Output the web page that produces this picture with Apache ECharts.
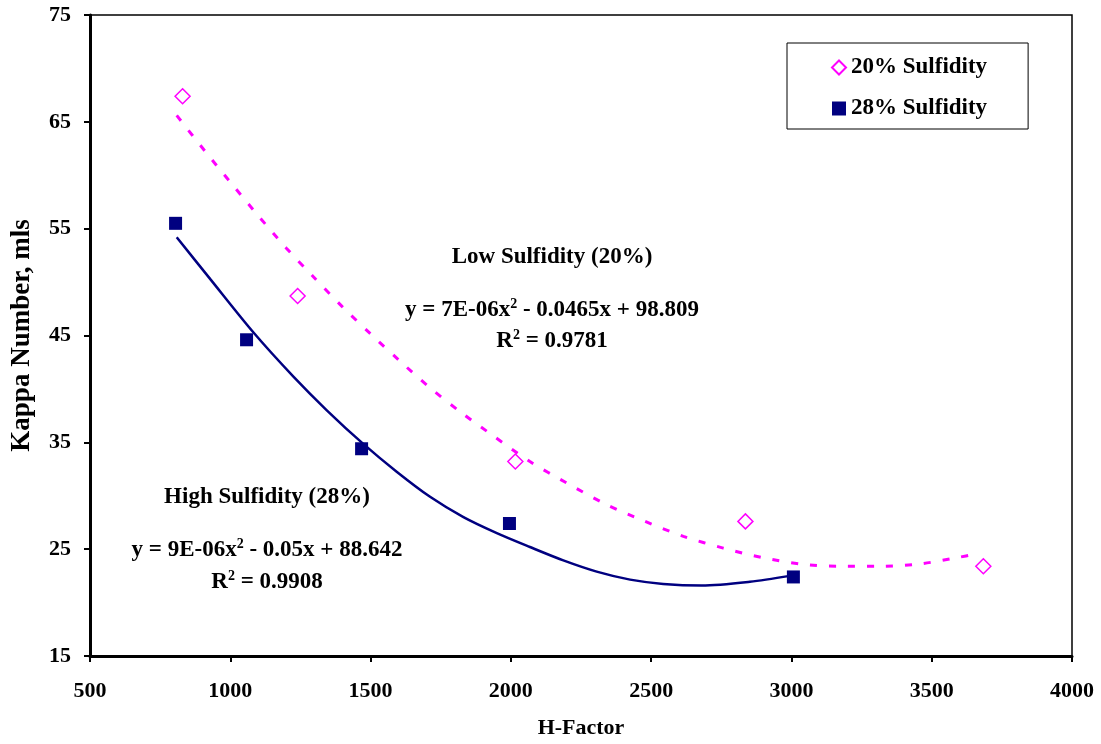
<!DOCTYPE html>
<html><head><meta charset="utf-8">
<script src="https://cdn.jsdelivr.net/npm/echarts@6/dist/echarts.min.js"></script>
<style>html,body{margin:0;padding:0;background:#fff;overflow:hidden}#c{width:1101px;height:744px}</style>
</head><body><div id="c"></div>
<script>
// Measured data points
const hFactor20 = [830, 1240, 2016, 2836, 3684];
const kappa20 = [67.4, 48.7, 33.2, 27.6, 23.4];
const hFactor28 = [805, 1058, 1468, 1995, 3007];
const kappa28 = [55.5, 44.6, 34.4, 27.4, 22.4];
// Trendline curves
const trend20X = [809, 910, 1005, 1100, 1199, 1296, 1399, 1502, 1605, 1712, 1825, 1943, 2068, 2199, 2339, 2478, 2615, 2757, 2898, 3037, 3173, 3313, 3452, 3589, 3665];
const trend20Y = [65.6, 62.25, 59.2, 56.2, 53.2, 50.5, 47.7, 45.1, 42.6, 40.1, 37.75, 35.5, 33.2, 31.2, 29.2, 27.6, 26.2, 25.1, 24.2, 23.6, 23.4, 23.4, 23.6, 24.2, 24.6];
const trend28X = [809, 928, 1082, 1225, 1344, 1474, 1593, 1712, 1831, 1950, 2068, 2187, 2306, 2425, 2543, 2680, 2852, 2995];
const trend28Y = [54.2, 50.3, 45.3, 41.15, 38.0, 34.85, 32.25, 29.9, 28.0, 26.5, 25.2, 23.95, 22.9, 22.15, 21.75, 21.6, 21.95, 22.5];
const xTickMin = 500, xTickMax = 4000, xTickStep = 500;
const yTickMin = 15, yTickMax = 75, yTickStep = 10;
const seriesNames = ['20% Sulfidity', '28% Sulfidity'];
const noteLow = ['Low Sulfidity (20%)', 'y = 7E-06x', '2', ' - 0.0465x + 98.809', 'R', '2', ' = 0.9781'];
const noteHigh = ['High Sulfidity (28%)', 'y = 9E-06x', '2', ' - 0.05x + 88.642', 'R', '2', ' = 0.9908'];

const zip = (a, b) => a.map((v, i) => [v, b[i]]);
const FONT = '"Liberation Serif", "Times New Roman", serif';
const PINK = '#FF00FF', NAVY = '#000080';
const rich = {
  b: {fontFamily: FONT, fontWeight: 'bold', fontSize: 23, fill: '#000', color: '#000'},
  s: {fontFamily: FONT, fontWeight: 'bold', fontSize: 14, fill: '#000', color: '#000', verticalAlign: 'top', padding: [0,0,12,0]}
};
function textEl(x, y, str) {
  return {type: 'text', x: x, y: y, z: 100, style: {text: str, rich: rich, align: 'center', verticalAlign: 'middle', textAlign: 'center', textVerticalAlign: 'middle', font: 'bold 23px ' + FONT, fill: '#000'}};
}
const chart = echarts.init(document.getElementById('c'), null, {renderer: 'canvas'});
chart.setOption({
  animation: false,
  backgroundColor: '#fff',
  grid: {left: 90, right: 29, top: 15, bottom: 77, show: true, borderColor: '#000', borderWidth: 1.5, backgroundColor: 'transparent'},
  xAxis: {
    type: 'value', min: xTickMin, max: xTickMax, interval: xTickStep,
    name: 'H-Factor', nameLocation: 'middle', nameGap: 61,
    nameTextStyle: {fontFamily: FONT, fontWeight: 'bold', fontSize: 22, color: '#000'},
    axisLine: {onZero: false, lineStyle: {color: '#000', width: 3}},
    axisTick: {inside: false, length: 6, lineStyle: {color: '#000', width: 2}},
    axisLabel: {margin: 24, fontFamily: FONT, fontWeight: 'bold', fontSize: 22, color: '#000', formatter: v => String(v)},
    splitLine: {show: false}
  },
  yAxis: {
    type: 'value', min: yTickMin, max: yTickMax, interval: yTickStep,
    name: 'Kappa Number, mls', nameLocation: 'middle', nameGap: 54,
    nameTextStyle: {fontFamily: FONT, fontWeight: 'bold', fontSize: 27, color: '#000'},
    axisLine: {onZero: false, lineStyle: {color: '#000', width: 3}},
    axisTick: {inside: false, length: 6, lineStyle: {color: '#000', width: 2}},
    axisLabel: {margin: 19, fontFamily: FONT, fontWeight: 'bold', fontSize: 22, color: '#000', formatter: v => String(v)},
    splitLine: {show: false}
  },
  legend: {
    data: seriesNames, orient: 'vertical', left: 787, top: 43,
    backgroundColor: '#fff', borderColor: '#000', borderWidth: 1,
    padding: [13, 41, 9, 44], itemGap: 18, itemWidth: 14, itemHeight: 14,
    textStyle: {fontFamily: FONT, fontWeight: 'bold', fontSize: 23, color: '#000', lineHeight: 22}
  },
  series: [
    {name: 'trend20', type: 'line', data: zip(trend20X, trend20Y), smooth: 0.3, showSymbol: false, symbol: 'none', silent: true,
     lineStyle: {color: PINK, width: 3, type: [7, 12]}, z: 2},
    {name: 'trend28', type: 'line', data: zip(trend28X, trend28Y), smooth: 0.3, showSymbol: false, symbol: 'none', silent: true,
     lineStyle: {color: NAVY, width: 2.5}, z: 2},
    {name: seriesNames[0], type: 'scatter', data: zip(hFactor20, kappa20), symbol: 'diamond', symbolSize: 15,
     itemStyle: {color: '#fff', borderColor: PINK, borderWidth: 1.5, opacity: 1}, z: 3},
    {name: seriesNames[1], type: 'scatter', data: zip(hFactor28, kappa28), symbol: 'rect', symbolSize: 13,
     itemStyle: {color: NAVY, opacity: 1}, z: 3}
  ],
  graphic: [
    textEl(552, 257, noteLow[0]),
    textEl(552, 310, '{b|' + noteLow[1] + '}{s|' + noteLow[2] + '}{b|' + noteLow[3] + '}'),
    textEl(552, 341, '{b|' + noteLow[4] + '}{s|' + noteLow[5] + '}{b|' + noteLow[6] + '}'),
    textEl(267, 497, noteHigh[0]),
    textEl(267, 550, '{b|' + noteHigh[1] + '}{s|' + noteHigh[2] + '}{b|' + noteHigh[3] + '}'),
    textEl(267, 582, '{b|' + noteHigh[4] + '}{s|' + noteHigh[5] + '}{b|' + noteHigh[6] + '}')
  ]
});
</script></body></html>
